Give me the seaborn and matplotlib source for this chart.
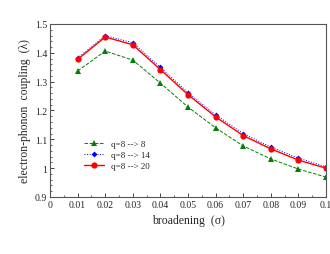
import matplotlib
matplotlib.use("Agg")
import matplotlib.pyplot as plt
import seaborn as sns
import pandas as pd
from matplotlib.ticker import MultipleLocator

sigma = [0.01, 0.02, 0.03, 0.04, 0.05, 0.06, 0.07, 0.08, 0.09, 0.10]
lam_q8 = [1.337, 1.406, 1.375, 1.295, 1.212, 1.140, 1.077, 1.032, 0.997, 0.969]
lam_q14 = [1.382, 1.460, 1.435, 1.350, 1.262, 1.185, 1.120, 1.073, 1.035, 1.005]
lam_q20 = [1.377, 1.455, 1.428, 1.342, 1.255, 1.178, 1.113, 1.067, 1.028, 1.000]
labels = ["q=8 --> 8", "q=8 --> 14", "q=8 --> 20"]
xticks = [0, 0.01, 0.02, 0.03, 0.04, 0.05, 0.06, 0.07, 0.08, 0.09, 0.1]
xtick_labels = ["0", "0.01", "0.02", "0.03", "0.04", "0.05", "0.06", "0.07", "0.08", "0.09", "0.1"]
yticks = [0.9, 1.0, 1.1, 1.2, 1.3, 1.4, 1.5]
ytick_labels = ["0.9", "1", "1.1", "1.2", "1.3", "1.4", "1.5"]

df = pd.DataFrame({"sigma": sigma * 3,
                   "lam": lam_q8 + lam_q14 + lam_q20,
                   "series": [labels[0]] * 10 + [labels[1]] * 10 + [labels[2]] * 10})

sns.set_style("ticks")
plt.rcParams['font.family'] = ['Liberation Serif', 'DejaVu Serif']

fig = plt.figure(figsize=(3.3, 2.55), dpi=100)
ax = fig.add_axes([50/330, 1 - 198/255, 276/330, 173/255])

styles = {labels[0]: dict(color="green", marker="^", ls="--", lw=0.7, ms=4),
          labels[1]: dict(color="blue", marker="D", ls=":", lw=0.7, ms=3),
          labels[2]: dict(color="red", marker="o", ls="-", lw=1.0, ms=4.5)}
for lab in labels:
    st = styles[lab]
    sub = df[df["series"] == lab]
    sns.lineplot(data=sub, x="sigma", y="lam", ax=ax, label=lab,
                 color=st["color"], marker=st["marker"], linestyle=st["ls"],
                 linewidth=st["lw"], markersize=st["ms"], markeredgewidth=0)

ax.set_xticks(xticks, xtick_labels)
ax.set_yticks(yticks, ytick_labels)
ax.set_xlim(0, 0.1)
ax.set_ylim(0.9, 1.5)
ax.xaxis.set_minor_locator(MultipleLocator(0.005))
ax.yaxis.set_minor_locator(MultipleLocator(0.02))
ax.tick_params(direction="in", labelsize=7, length=3, width=0.6, pad=2)
ax.tick_params(which="minor", direction="in", length=1.5, width=0.5)
for s in ax.spines.values():
    s.set_linewidth(0.8)
    s.set_color("#555555")
ax.set_xlabel("broadening  (σ)", fontsize=8.5, labelpad=4)
ax.set_ylabel("electron-phonon  coupling  (λ)", fontsize=8.5, labelpad=3)
ax.legend(loc="lower left", bbox_to_anchor=(0.1, 0.12), frameon=False, fontsize=6.5,
          handlelength=2.2, labelspacing=0.3, borderpad=0.2)

fig.savefig("out.png", dpi=100)
